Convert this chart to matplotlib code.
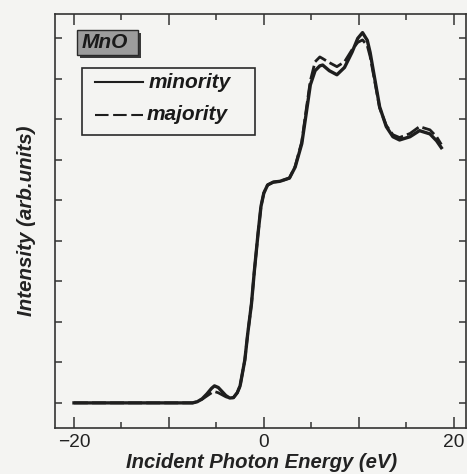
import matplotlib
matplotlib.use('Agg')
import matplotlib.pyplot as plt
from matplotlib.lines import Line2D
from matplotlib.patches import Rectangle
from matplotlib.ticker import MultipleLocator, FixedLocator, FuncFormatter

plt.rcParams['font.family'] = ['Liberation Sans', 'DejaVu Sans']

W, H = 467, 474
BG = '#f4f4f2'
INK = '#1e1e1e'

# photon energy relative to the edge (eV)
energy = [-20, -12, -7.5, -7.0, -6.5, -6.0, -5.5, -5.2, -4.8, -4.4, -4.0, -3.6,
          -3.2, -2.8, -2.5, -2.0, -1.7, -1.3, -1.0, -0.6, -0.3, 0.0, 0.4, 1.0,
          1.7, 2.7, 3.3, 4.0, 4.5, 4.9, 5.4, 5.9, 6.2, 6.9, 7.7, 8.5, 9.3, 9.9,
          10.4, 10.9, 11.2, 11.7, 12.2, 12.9, 13.6, 14.3, 15.4, 16.4, 17.5,
          18.2, 18.7]

minority = [0.0, 0.0, 0.0, 0.03, 0.10, 0.22, 0.36, 0.42, 0.38, 0.28, 0.18, 0.12,
            0.13, 0.25, 0.42, 1.06, 1.70, 2.45, 3.25, 4.20, 4.85, 5.18, 5.38, 5.45,
            5.47, 5.55, 5.82, 6.40, 7.20, 7.85, 8.20, 8.32, 8.34, 8.20, 8.10, 8.28,
            8.66, 9.00, 9.14, 8.95, 8.65, 7.98, 7.31, 6.82, 6.57, 6.49, 6.57, 6.72,
            6.64, 6.47, 6.30]

majority = [0.0, 0.0, 0.0, 0.03, 0.09, 0.17, 0.25, 0.28, 0.25, 0.20, 0.15, 0.12,
            0.13, 0.25, 0.42, 1.06, 1.70, 2.45, 3.25, 4.20, 4.85, 5.18, 5.38, 5.45,
            5.47, 5.55, 5.84, 6.45, 7.30, 7.95, 8.42, 8.54, 8.50, 8.40, 8.30, 8.42,
            8.72, 8.90, 8.96, 8.82, 8.55, 7.92, 7.28, 6.85, 6.62, 6.55, 6.65, 6.82,
            6.74, 6.57, 6.38]

x_labels = {-20: '\u221220', 0: '0', 20: '20'}

fig = plt.figure(figsize=(W / 100, H / 100), dpi=100)
fig.patch.set_facecolor(BG)


def fx(px):
    return px / W


def fy(py):
    return 1 - py / H


ax = fig.add_axes([fx(55), fy(428), fx(466) - fx(55), fy(14) - fy(428)])
ax.set_facecolor(BG)

ax.plot(energy, minority, color=INK, lw=2.4, solid_joinstyle='round')
ax.plot(energy, majority, color=INK, lw=2.0, linestyle=(0, (5, 1.5)),
        dash_joinstyle='round')

ax.set_xlim(-22.0, 21.3)
ax.set_ylim(-0.62, 9.6)

for s in ax.spines.values():
    s.set_linewidth(1.2)
    s.set_color('#333333')

ax.xaxis.set_major_locator(MultipleLocator(10))
ax.xaxis.set_minor_locator(MultipleLocator(5))
ax.xaxis.set_major_formatter(FuncFormatter(lambda v, p: x_labels.get(int(round(v)), '')))
ax.yaxis.set_major_locator(FixedLocator(range(10)))
ax.yaxis.set_major_formatter(FuncFormatter(lambda v, p: ''))
ax.tick_params(axis='both', which='both', direction='in', top=True, right=True,
               color='#333333', width=1.1)
ax.tick_params(axis='x', which='major', length=8, pad=4, labelsize=13.8,
               labelcolor='#222222')
ax.tick_params(axis='x', which='minor', length=4)
ax.tick_params(axis='y', which='major', length=5)

ax.set_ylabel('Intensity (arb.units)', fontsize=14.8, fontweight='bold',
              fontstyle='italic', color='#222222', labelpad=10)
fig.text(fx(262), fy(463), 'Incident Photon Energy (eV)', fontsize=14.6,
         fontweight='bold', fontstyle='italic', color='#222222',
         ha='center', va='center')

# sample tag with drop shadow
fig.patches.append(Rectangle((fx(80), fy(58)), fx(61), fy(30) - fy(55),
                             transform=fig.transFigure, facecolor='#3a3a3a',
                             edgecolor='none', zorder=5))
fig.patches.append(Rectangle((fx(77), fy(55)), fx(61), fy(30) - fy(55),
                             transform=fig.transFigure, facecolor='#9c9c9c',
                             edgecolor='#2a2a2a', lw=1.0, zorder=6))
fig.text(fx(82), fy(43), 'MnO', fontsize=15, fontweight='bold', fontstyle='italic',
         color='#1a1a1a', ha='left', va='center', zorder=7)

# legend box
fig.patches.append(Rectangle((fx(82), fy(135)), fx(255) - fx(82), fy(68) - fy(135),
                             transform=fig.transFigure, facecolor=BG,
                             edgecolor='#2a2a2a', lw=1.2, zorder=5))
fig.lines.append(Line2D([fx(95), fx(143)], [fy(82), fy(82)], transform=fig.transFigure,
                        color=INK, lw=1.5, zorder=6))
fig.lines.append(Line2D([fx(95), fx(143)], [fy(115), fy(115)], transform=fig.transFigure,
                        color=INK, lw=1.5, linestyle=(0, (6.5, 2.2)), zorder=6))
fig.text(fx(149), fy(83), 'minority', fontsize=15, fontweight='bold',
         fontstyle='italic', color='#1a1a1a', ha='left', va='center', zorder=7)
fig.text(fx(147), fy(115), 'majority', fontsize=15, fontweight='bold',
         fontstyle='italic', color='#1a1a1a', ha='left', va='center', zorder=7)

fig.savefig('out.png', dpi=100, facecolor=BG)
